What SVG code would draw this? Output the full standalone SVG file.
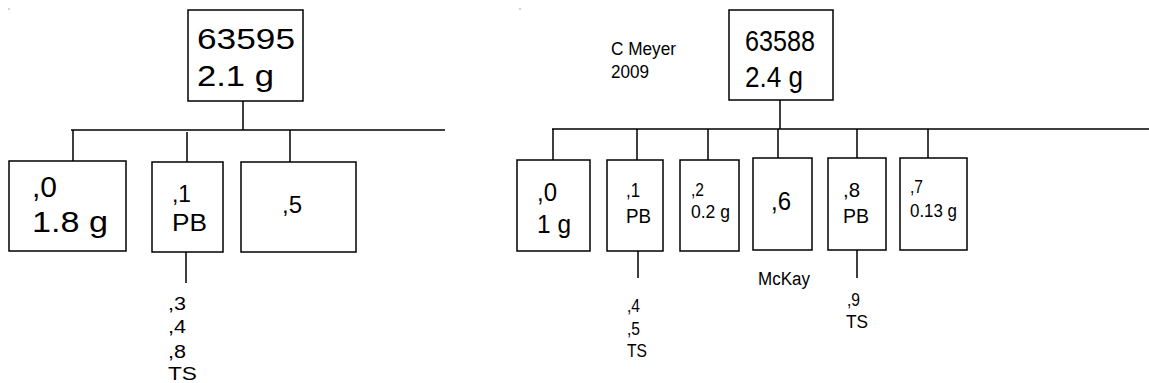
<svg xmlns="http://www.w3.org/2000/svg" width="1149" height="383" viewBox="0 0 1149 383">
  <style>
    .box { fill: #fff; stroke: #000; stroke-width: 1.5; }
    .wire { fill: none; stroke: #000; stroke-width: 1.5; }
    text { font-family: "Liberation Sans", Arial, sans-serif; fill: #000; }
    .big { font-size: 29px; }
    .lg { font-size: 26px; }
    .mid { font-size: 24px; }
    .md2 { font-size: 21px; }
    .sm { font-size: 19px; }
    .xs { font-size: 18px; }
  </style>
  <rect width="1149" height="383" fill="#fff"/>
  <circle cx="9" cy="9" r="0.7" fill="#888"/>
  <circle cx="520" cy="9" r="0.7" fill="#888"/>

  <!-- connectors -->
  <g id="connectors" class="wire">
    <!-- left tree -->
    <path d="M243 101 V130 M71 130 H445 M73 130 V161 M187 132 V162 M290 130 V162 M186 252 V283"/>
    <!-- right tree -->
    <path d="M780 100 V129 M552 129 H1149 M553 129 V160 M637 129 V160 M708 129 V160 M778 129 V158 M857 129 V158 M928 129 V158 M638 251 V278 M857 250 V278"/>
  </g>

  <!-- left tree: 63595 -->
  <g id="n63595">
    <rect class="box" x="188" y="10" width="115" height="91"/>
    <text class="big" x="197" y="49" textLength="98" lengthAdjust="spacingAndGlyphs">63595</text>
    <text class="big" x="197" y="86" textLength="77" lengthAdjust="spacingAndGlyphs">2.1 g</text>
  </g>
  <g id="n63595-0">
    <rect class="box" x="9" y="161" width="117" height="90"/>
    <text class="big" x="32" y="197" textLength="25" lengthAdjust="spacingAndGlyphs">,0</text>
    <text class="big" x="32" y="232" textLength="76" lengthAdjust="spacingAndGlyphs">1.8 g</text>
  </g>
  <g id="n63595-1">
    <rect class="box" x="152" y="162" width="71" height="90"/>
    <text class="mid" x="172" y="202" textLength="19" lengthAdjust="spacingAndGlyphs">,1</text>
    <text class="mid" x="172" y="231" textLength="35" lengthAdjust="spacingAndGlyphs">PB</text>
  </g>
  <g id="n63595-5">
    <rect class="box" x="241" y="162" width="115" height="90"/>
    <text class="mid" x="282" y="213" textLength="20" lengthAdjust="spacingAndGlyphs">,5</text>
  </g>
  <g id="n63595-1-sub">
    <text class="xs" x="168" y="310" textLength="18" lengthAdjust="spacingAndGlyphs">,3</text>
    <text class="xs" x="168" y="333" textLength="18" lengthAdjust="spacingAndGlyphs">,4</text>
    <text class="xs" x="168" y="358" textLength="18" lengthAdjust="spacingAndGlyphs">,8</text>
    <text class="xs" x="168" y="380" textLength="29" lengthAdjust="spacingAndGlyphs">TS</text>
  </g>

  <!-- right tree: 63588 -->
  <g id="credit">
    <text class="xs" x="611" y="55" textLength="65" lengthAdjust="spacingAndGlyphs">C Meyer</text>
    <text class="xs" x="611" y="78" textLength="38" lengthAdjust="spacingAndGlyphs">2009</text>
  </g>
  <g id="n63588">
    <rect class="box" x="729" y="10" width="104" height="90"/>
    <text class="big" x="745" y="51" textLength="70" lengthAdjust="spacingAndGlyphs">63588</text>
    <text class="big" x="745" y="87" textLength="58" lengthAdjust="spacingAndGlyphs">2.4 g</text>
  </g>
  <g id="n63588-0">
    <rect class="box" x="517" y="160" width="73" height="91"/>
    <text class="lg" x="537" y="201" textLength="20" lengthAdjust="spacingAndGlyphs">,0</text>
    <text class="lg" x="537" y="233" textLength="34" lengthAdjust="spacingAndGlyphs">1 g</text>
  </g>
  <g id="n63588-1">
    <rect class="box" x="607" y="160" width="56" height="91"/>
    <text class="md2" x="626" y="197" textLength="14" lengthAdjust="spacingAndGlyphs">,1</text>
    <text class="md2" x="626" y="223" textLength="25" lengthAdjust="spacingAndGlyphs">PB</text>
  </g>
  <g id="n63588-2">
    <rect class="box" x="680" y="160" width="59" height="91"/>
    <text class="sm" x="691" y="196" textLength="13" lengthAdjust="spacingAndGlyphs">,2</text>
    <text class="sm" x="691" y="218" textLength="39" lengthAdjust="spacingAndGlyphs">0.2 g</text>
  </g>
  <g id="n63588-6">
    <rect class="box" x="753" y="158" width="59" height="92"/>
    <text class="lg" x="771" y="210" textLength="20" lengthAdjust="spacingAndGlyphs">,6</text>
  </g>
  <g id="n63588-8">
    <rect class="box" x="828" y="158" width="58" height="92"/>
    <text class="md2" x="843" y="197" textLength="17" lengthAdjust="spacingAndGlyphs">,8</text>
    <text class="md2" x="843" y="223" textLength="26" lengthAdjust="spacingAndGlyphs">PB</text>
  </g>
  <g id="n63588-7">
    <rect class="box" x="900" y="158" width="67" height="92"/>
    <text class="xs" x="910" y="193" textLength="13" lengthAdjust="spacingAndGlyphs">,7</text>
    <text class="xs" x="910" y="217" textLength="47" lengthAdjust="spacingAndGlyphs">0.13 g</text>
  </g>
  <g id="n63588-1-sub">
    <text class="xs" x="627" y="312" textLength="13" lengthAdjust="spacingAndGlyphs">,4</text>
    <text class="xs" x="627" y="335" textLength="13" lengthAdjust="spacingAndGlyphs">,5</text>
    <text class="xs" x="627" y="357" textLength="20" lengthAdjust="spacingAndGlyphs">TS</text>
  </g>
  <g id="n63588-6-note">
    <text class="xs" x="758" y="285" textLength="52" lengthAdjust="spacingAndGlyphs">McKay</text>
  </g>
  <g id="n63588-8-sub">
    <text class="xs" x="847" y="306" textLength="13" lengthAdjust="spacingAndGlyphs">,9</text>
    <text class="xs" x="846" y="328" textLength="22" lengthAdjust="spacingAndGlyphs">TS</text>
  </g>
</svg>
